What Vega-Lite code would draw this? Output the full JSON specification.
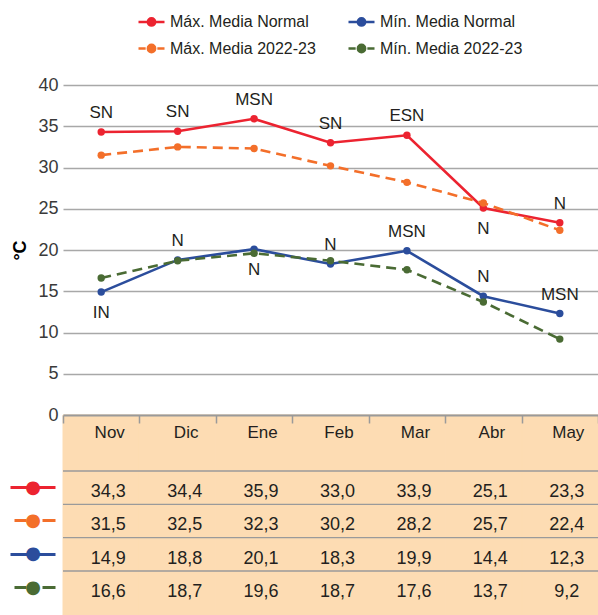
{
  "$schema": "https://vega.github.io/schema/vega-lite/v6.json",
  "width": 535,
  "height": 530,
  "autosize": {"type": "none"},
  "padding": {"left": 63, "top": 85, "right": 0, "bottom": 0},
  "config": {
    "font": "Liberation Sans",
    "view": {"stroke": null},
    "locale": {"number": {"decimal": ",", "thousands": ".", "grouping": [3], "currency": ["", " €"]}}
  },
  "data": {"values": [
    {"mes": "Nov", "serie": "Máx. Media Normal", "valor": 34.3, "clase": "SN", "pos": "arriba"},
    {"mes": "Dic", "serie": "Máx. Media Normal", "valor": 34.4, "clase": "SN", "pos": "arriba"},
    {"mes": "Ene", "serie": "Máx. Media Normal", "valor": 35.9, "clase": "MSN", "pos": "arriba"},
    {"mes": "Feb", "serie": "Máx. Media Normal", "valor": 33.0, "clase": "SN", "pos": "arriba"},
    {"mes": "Mar", "serie": "Máx. Media Normal", "valor": 33.9, "clase": "ESN", "pos": "arriba"},
    {"mes": "Abr", "serie": "Máx. Media Normal", "valor": 25.1, "clase": "N", "pos": "abajo"},
    {"mes": "May", "serie": "Máx. Media Normal", "valor": 23.3, "clase": "N", "pos": "arriba"},
    {"mes": "Nov", "serie": "Máx. Media 2022-23", "valor": 31.5, "clase": null, "pos": null},
    {"mes": "Dic", "serie": "Máx. Media 2022-23", "valor": 32.5, "clase": null, "pos": null},
    {"mes": "Ene", "serie": "Máx. Media 2022-23", "valor": 32.3, "clase": null, "pos": null},
    {"mes": "Feb", "serie": "Máx. Media 2022-23", "valor": 30.2, "clase": null, "pos": null},
    {"mes": "Mar", "serie": "Máx. Media 2022-23", "valor": 28.2, "clase": null, "pos": null},
    {"mes": "Abr", "serie": "Máx. Media 2022-23", "valor": 25.7, "clase": null, "pos": null},
    {"mes": "May", "serie": "Máx. Media 2022-23", "valor": 22.4, "clase": null, "pos": null},
    {"mes": "Nov", "serie": "Mín. Media Normal", "valor": 14.9, "clase": "IN", "pos": "abajo"},
    {"mes": "Dic", "serie": "Mín. Media Normal", "valor": 18.8, "clase": "N", "pos": "arriba"},
    {"mes": "Ene", "serie": "Mín. Media Normal", "valor": 20.1, "clase": "N", "pos": "abajo"},
    {"mes": "Feb", "serie": "Mín. Media Normal", "valor": 18.3, "clase": "N", "pos": "arriba"},
    {"mes": "Mar", "serie": "Mín. Media Normal", "valor": 19.9, "clase": "MSN", "pos": "arriba"},
    {"mes": "Abr", "serie": "Mín. Media Normal", "valor": 14.4, "clase": "N", "pos": "arriba"},
    {"mes": "May", "serie": "Mín. Media Normal", "valor": 12.3, "clase": "MSN", "pos": "arriba"},
    {"mes": "Nov", "serie": "Mín. Media 2022-23", "valor": 16.6, "clase": null, "pos": null},
    {"mes": "Dic", "serie": "Mín. Media 2022-23", "valor": 18.7, "clase": null, "pos": null},
    {"mes": "Ene", "serie": "Mín. Media 2022-23", "valor": 19.6, "clase": null, "pos": null},
    {"mes": "Feb", "serie": "Mín. Media 2022-23", "valor": 18.7, "clase": null, "pos": null},
    {"mes": "Mar", "serie": "Mín. Media 2022-23", "valor": 17.6, "clase": null, "pos": null},
    {"mes": "Abr", "serie": "Mín. Media 2022-23", "valor": 13.7, "clase": null, "pos": null},
    {"mes": "May", "serie": "Mín. Media 2022-23", "valor": 9.2, "clase": null, "pos": null}
  ]},
  "resolve": {"scale": {"y": "independent"}, "axis": {"y": "independent"}},
  "layer": [
    {
      "layer": [
        {
          "transform": [{"filter": "datum.serie === 'Máx. Media Normal'"}],
          "mark": {"type": "rect", "fill": "#FDDCB3", "stroke": "#FDDCB3", "strokeWidth": 1},
          "encoding": {
            "x": {"field": "mes", "type": "nominal", "sort": null,
              "scale": {"type": "band", "domain": ["Nov", "Dic", "Ene", "Feb", "Mar", "Abr", "May"], "paddingInner": 0, "paddingOuter": 0},
              "axis": {"orient": "bottom", "offset": -200, "title": null, "labelAngle": 0, "grid": false,
                "domainColor": "#9a9a9a", "domainWidth": 2, "tickColor": "#9a9a9a", "tickWidth": 1.5, "tickSize": 8,
                "tickBand": "extent", "labelFontSize": 17, "labelColor": "#231f20", "labelPadding": 1, "labelOffset": 8, "zindex": 1}},
            "y": {"datum": 0, "type": "quantitative",
              "scale": {"domain": [0, 40], "range": [330, 0], "nice": false, "zero": false},
              "axis": {"orient": "left", "values": [0, 5, 10, 15, 20, 25, 30, 35, 40], "grid": true, "gridColor": "#a8a8a8", "gridWidth": 1.5,
                "domain": false, "ticks": false, "labelFontSize": 18, "labelColor": "#3a3a3a", "labelPadding": 5,
                "title": "°C", "titleFontSize": 18, "titleFontWeight": "bold", "titleColor": "#000000", "titlePadding": 8, "zindex": 0}},
            "y2": {"datum": -24.25}
          }
        },
        {
          "transform": [{"filter": "datum.serie === 'Máx. Media Normal' || datum.serie === 'Mín. Media Normal'"}],
          "mark": {"type": "line", "strokeWidth": 2.6},
          "encoding": {
            "x": {"field": "mes", "type": "nominal", "sort": null, "scale": {"type": "band", "domain": ["Nov", "Dic", "Ene", "Feb", "Mar", "Abr", "May"], "paddingInner": 0, "paddingOuter": 0}},
            "y": {"field": "valor", "type": "quantitative", "scale": {"domain": [0, 40], "range": [330, 0], "nice": false, "zero": false}},
            "color": {"field": "serie", "type": "nominal",
              "scale": {"domain": ["Máx. Media Normal", "Máx. Media 2022-23", "Mín. Media Normal", "Mín. Media 2022-23"],
                        "range": ["#EC2330", "#F36F2A", "#2B4D9C", "#4A6B34"]},
              "legend": {"orient": "none", "legendX": 74, "legendY": -78, "columns": 2, "columnPadding": 27, "rowPadding": 3,
                "padding": 0, "title": null, "labelFontSize": 16, "labelColor": "#231f20", "symbolSize": 676, "labelOffset": 4,
                "symbolStrokeWidth": 2.5,
                "encode": {"symbols": {"update": {
                  "shape": {"signal": "(datum.value === 'Máx. Media 2022-23' || datum.value === 'Mín. Media 2022-23') ? 'M-1,0H-0.45M0.45,0H1M0.28,0A0.28,0.28 0 1,1 -0.28,0A0.28,0.28 0 1,1 0.28,0Z' : 'M-1,0H1M0.28,0A0.28,0.28 0 1,1 -0.28,0A0.28,0.28 0 1,1 0.28,0Z'"},
                  "fill": {"signal": "scale('color', datum.value)"},
                  "stroke": {"signal": "scale('color', datum.value)"},
                  "strokeDash": {"value": []},
                  "opacity": {"value": 1}}}}}}
          }
        },
        {
          "transform": [{"filter": "datum.serie === 'Máx. Media 2022-23' || datum.serie === 'Mín. Media 2022-23'"}],
          "mark": {"type": "line", "strokeWidth": 2.6, "strokeDash": [10, 6]},
          "encoding": {
            "x": {"field": "mes", "type": "nominal", "sort": null, "scale": {"type": "band", "domain": ["Nov", "Dic", "Ene", "Feb", "Mar", "Abr", "May"], "paddingInner": 0, "paddingOuter": 0}},
            "y": {"field": "valor", "type": "quantitative", "scale": {"domain": [0, 40], "range": [330, 0], "nice": false, "zero": false}},
            "color": {"field": "serie", "type": "nominal"}
          }
        },
        {
          "mark": {"type": "point", "filled": true, "size": 55, "opacity": 1},
          "encoding": {
            "x": {"field": "mes", "type": "nominal", "sort": null, "scale": {"type": "band", "domain": ["Nov", "Dic", "Ene", "Feb", "Mar", "Abr", "May"], "paddingInner": 0, "paddingOuter": 0}},
            "y": {"field": "valor", "type": "quantitative", "scale": {"domain": [0, 40], "range": [330, 0], "nice": false, "zero": false}},
            "color": {"field": "serie", "type": "nominal"}
          }
        },
        {
          "transform": [{"filter": "datum.pos === 'arriba'"}],
          "mark": {"type": "text", "fontSize": 17, "color": "#231f20", "baseline": "middle", "dy": -19},
          "encoding": {
            "x": {"field": "mes", "type": "nominal", "sort": null, "scale": {"type": "band", "domain": ["Nov", "Dic", "Ene", "Feb", "Mar", "Abr", "May"], "paddingInner": 0, "paddingOuter": 0}},
            "y": {"field": "valor", "type": "quantitative", "scale": {"domain": [0, 40], "range": [330, 0], "nice": false, "zero": false}},
            "text": {"field": "clase"}
          }
        },
        {
          "transform": [{"filter": "datum.pos === 'abajo'"}],
          "mark": {"type": "text", "fontSize": 17, "color": "#231f20", "baseline": "middle", "dy": 21},
          "encoding": {
            "x": {"field": "mes", "type": "nominal", "sort": null, "scale": {"type": "band", "domain": ["Nov", "Dic", "Ene", "Feb", "Mar", "Abr", "May"], "paddingInner": 0, "paddingOuter": 0}},
            "y": {"field": "valor", "type": "quantitative", "scale": {"domain": [0, 40], "range": [330, 0], "nice": false, "zero": false}},
            "text": {"field": "clase"}
          }
        }
      ]
    },
    {
      "layer": [
        {
          "transform": [{"filter": "datum.mes === 'Nov'"}],
          "mark": {"type": "rule", "color": "#9a9a9a", "strokeWidth": 1.3},
          "encoding": {
            "y": {"field": "serie", "type": "nominal", "bandPosition": 0,
              "scale": {"type": "band", "domain": ["Máx. Media Normal", "Máx. Media 2022-23", "Mín. Media Normal", "Mín. Media 2022-23"], "range": [386, 519.33], "paddingInner": 0, "paddingOuter": 0},
              "axis": {"orient": "left", "offset": 8, "domain": false, "grid": false, "title": null,
                "tickSize": 45, "tickWidth": 3, "labelExpr": "'●'", "labelFont": "DejaVu Sans", "labelFontSize": 18,
                "labelAlign": "center", "labelBaseline": "middle", "labelPadding": -22.5, "labelOverlap": false, "labelBound": false,
                "tickColor": {"expr": "scale('color', datum.value)"},
                "labelColor": {"expr": "scale('color', datum.value)"},
                "tickDash": {"expr": "(datum.value === 'Máx. Media 2022-23' || datum.value === 'Mín. Media 2022-23') ? [13, 16, 12, 4] : [45, 0]"}}}
          }
        },
        {
          "mark": {"type": "text", "fontSize": 18, "color": "#231f20", "baseline": "middle", "dy": 4.5, "dx": 7},
          "encoding": {
            "x": {"field": "mes", "type": "nominal", "sort": null, "scale": {"type": "band", "domain": ["Nov", "Dic", "Ene", "Feb", "Mar", "Abr", "May"], "paddingInner": 0, "paddingOuter": 0}},
            "y": {"field": "serie", "type": "nominal",
              "scale": {"type": "band", "domain": ["Máx. Media Normal", "Máx. Media 2022-23", "Mín. Media Normal", "Mín. Media 2022-23"], "range": [386, 519.33], "paddingInner": 0, "paddingOuter": 0}},
            "text": {"field": "valor", "type": "quantitative", "format": ".1f"}
          }
        }
      ]
    }
  ]
}
